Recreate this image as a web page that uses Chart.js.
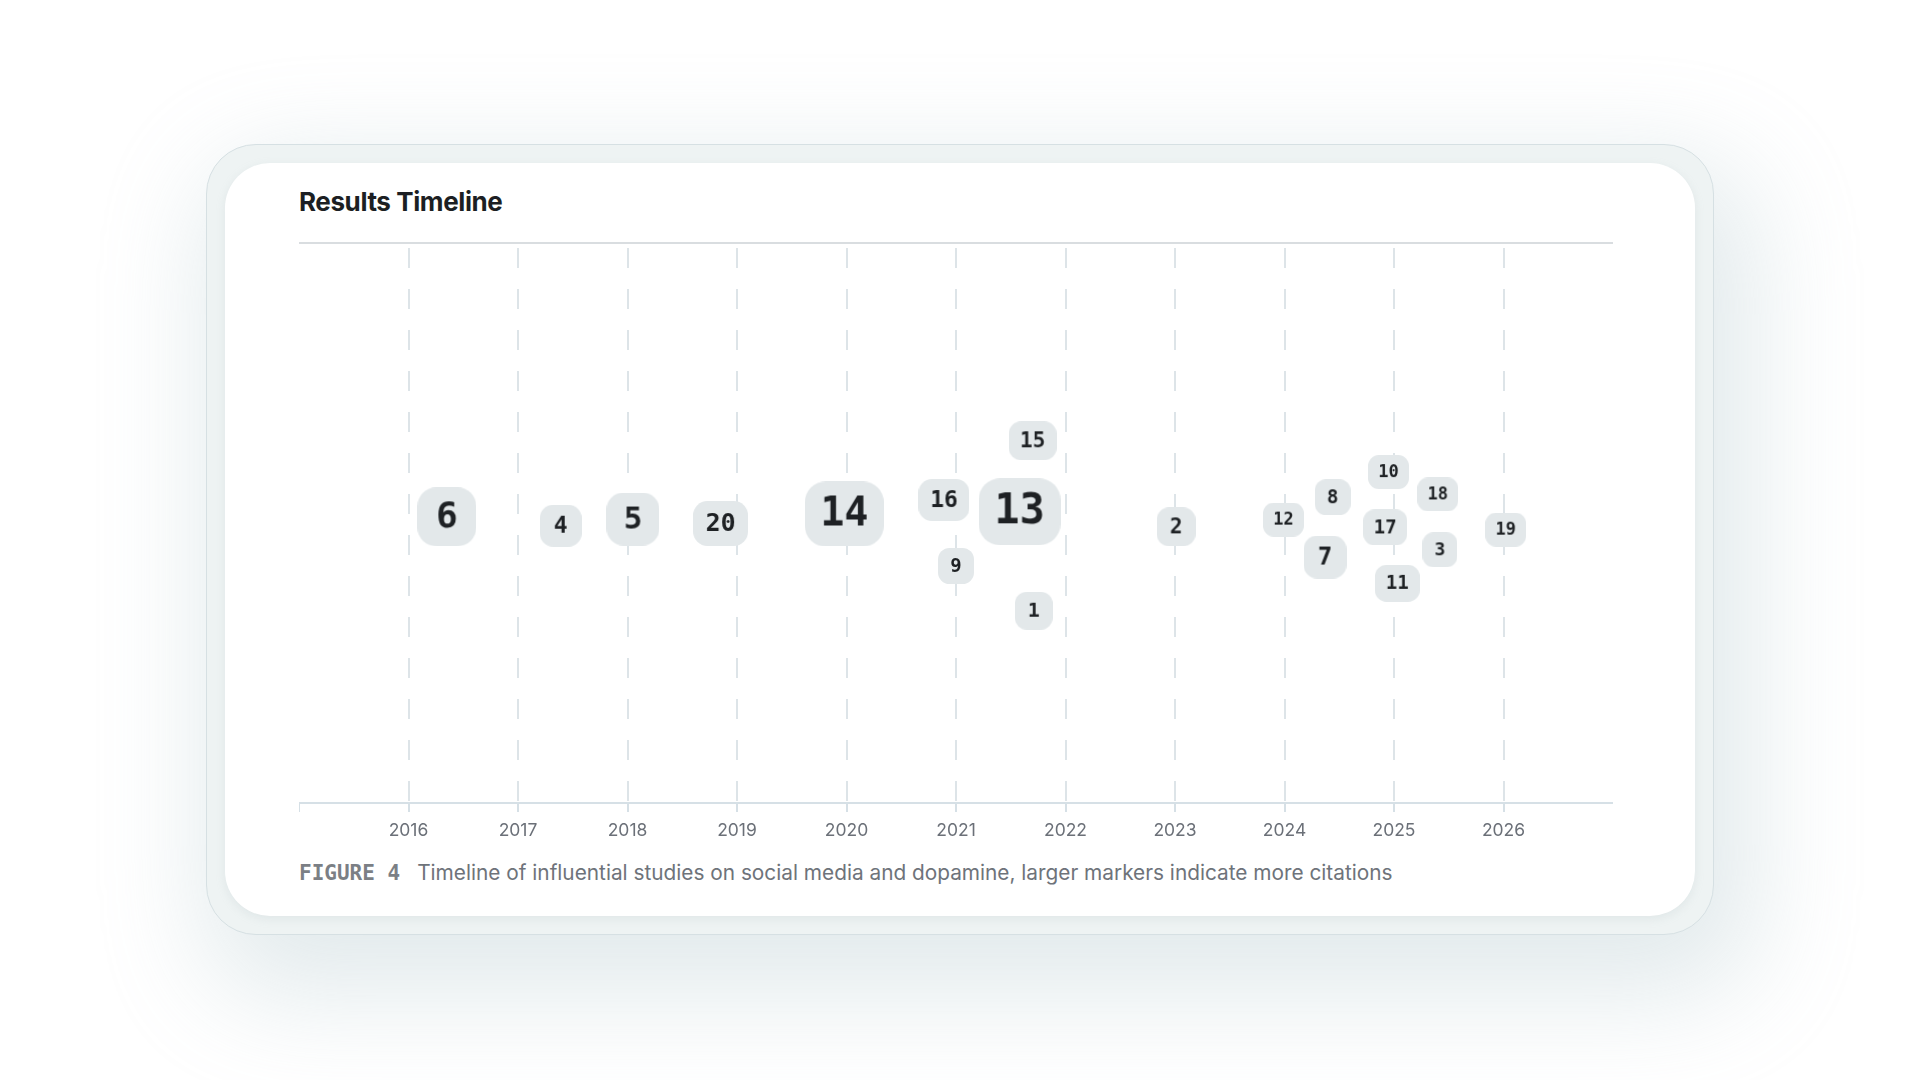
<!DOCTYPE html>
<html>
<head>
<meta charset="utf-8">
<script src="https://cdn.jsdelivr.net/npm/chart.js@4.4.1/dist/chart.umd.min.js"></script>
<style>
    html, body {
        margin: 0;
        padding: 0;
        width: 1920px;
        height: 1080px;
        background: #ffffff;
        overflow: hidden;
    }
    .frame {
        position: absolute;
        left: 206px;
        top: 144px;
        width: 1506px;
        height: 789px;
        border-radius: 50px;
        background: #eef3f3;
        border: 1px solid #d6e0e3;
        box-shadow: 20px 40px 110px 20px rgba(190, 208, 212, 0.45);
    }
    .card {
        position: absolute;
        left: 225px;
        top: 163px;
        width: 1470px;
        height: 753px;
        border-radius: 45px;
        background: #ffffff;
        box-shadow: 0 3px 10px rgba(160, 180, 185, 0.18);
    }
    .title {
        position: absolute;
        left: 299px;
        top: 184px;
        font-family: Inter, "Noto Sans", sans-serif;
        font-weight: 700;
        font-size: 26px;
        letter-spacing: -0.4px;
        color: #1c1f23;
        line-height: 36px;
    }
    .rule {
        position: absolute;
        left: 299px;
        top: 242px;
        width: 1314px;
        height: 2px;
        background: #d9dde0;
    }
    .chartBox {
        position: absolute;
        left: 299px;
        top: 244px;
        width: 1314px;
        height: 599px;
    }
    .caption {
        position: absolute;
        left: 299px;
        top: 860px;
        font-family: Inter, "Noto Sans", sans-serif;
        font-size: 20.8px;
        color: #6e737a;
        line-height: 26px;
        white-space: nowrap;
    }
    .caption b {
        font-family: "DejaVu Sans Mono", monospace;
        font-weight: 700;
        font-size: 21px;
        color: #7b7f85;
        margin-right: 17px;
    }
</style>
</head>
<body>
<div class="frame"></div>
<div class="card"></div>
<div class="title">Results Timeline</div>
<div class="rule"></div>
<div class="chartBox"><canvas id="timeline"></canvas></div>
<div class="caption"><b>FIGURE 4</b>Timeline of influential studies on social media and dopamine, larger markers indicate more citations</div>

<script>
// study numbers, publication year (fractional) and vertical jitter to keep labels apart
const studyIds = [6, 4, 5, 20, 14, 16, 13, 15, 9, 1, 2, 12, 8, 10, 18, 17, 7, 3, 11, 19];
const studyYears = [2016.35, 2017.39, 2018.05, 2018.85, 2019.98, 2020.89, 2021.58, 2021.70, 2021.00, 2021.71,
                    2023.01, 2023.99, 2024.44, 2024.95, 2025.40, 2024.92, 2024.37, 2025.42, 2025.03, 2026.02];
const studyOffsets = [51.2, 49.6, 50.8, 50.0, 51.7, 54.2, 52.1, 64.8, 42.4, 34.4,
                      49.4, 50.7, 54.7, 59.2, 55.2, 49.3, 44.0, 45.3, 39.3, 48.9];
const studyCitations = [290, 120, 230, 150, 350, 120, 370, 90, 60, 80,
                        90, 40, 60, 40, 40, 60, 130, 50, 70, 40];
const yearTicks = [2016, 2017, 2018, 2019, 2020, 2021, 2022, 2023, 2024, 2025, 2026];

const markerFill = '#e3e8ea';
const markerText = '#1e2124';

function makeMarker(id, citations) {
    const h = Math.round(30 + citations / 10);
    const label = String(id);
    const w = label.length > 1 ? Math.round(h * 1.22) : h;
    const c = document.createElement('canvas');
    c.width = w;
    c.height = h;
    const ctx = c.getContext('2d');
    const r = h * 0.32;
    ctx.fillStyle = markerFill;
    ctx.beginPath();
    ctx.roundRect(0, 0, w, h, r);
    ctx.fill();
    const fontSize = Math.round(h * 0.74 - 8);
    ctx.font = 'bold ' + fontSize + 'px "DejaVu Sans Mono", monospace';
    ctx.fillStyle = markerText;
    ctx.textAlign = 'center';
    ctx.textBaseline = 'middle';
    ctx.fillText(label, w / 2, h / 2 + 1);
    return c;
}

let points = [];
let markers = [];
for (let i = 0; i < studyIds.length; i++) {
    points.push({ x: studyYears[i], y: studyOffsets[i] });
    markers.push(makeMarker(studyIds[i], studyCitations[i]));
}

new Chart(document.getElementById('timeline'), {
    type: 'scatter',
    data: {
        datasets: [{
            data: points,
            pointStyle: markers,
            pointRadius: 20,
            pointHoverRadius: 20,
            clip: false
        }]
    },
    options: {
        responsive: true,
        maintainAspectRatio: false,
        layout: { padding: 0, autoPadding: false },
        scales: {
            x: {
                type: 'linear',
                min: 2015,
                max: 2027,
                afterBuildTicks: function(scale) {
                    scale.ticks = [{ value: 2015 }].concat(yearTicks.map(v => ({ value: v })), [{ value: 2027 }]);
                },
                afterFit: function(scale) {
                    scale.height = 40;
                    scale.paddingLeft = 0;
                    scale.paddingRight = 0;
                },
                ticks: {
                    color: '#6b7078',
                    padding: 8,
                    font: { family: 'Inter, "Noto Sans", sans-serif', size: 17.5 },
                    callback: function(value) {
                        return yearTicks.includes(value) ? String(value) : '';
                    }
                },
                grid: {
                    color: function(context) {
                        const v = context.tick && context.tick.value;
                        return yearTicks.includes(v) ? '#dde4e8' : 'rgba(0,0,0,0)';
                    },
                    tickColor: function(context) {
                        const v = context.tick && context.tick.value;
                        return v === 2027 ? 'rgba(0,0,0,0)' : '#d6e0e6';
                    },
                    lineWidth: 2,
                    tickLength: 9,
                    tickBorderDash: []
                },
                border: {
                    display: true,
                    color: '#d6e0e6',
                    width: 2,
                    dash: [20, 21],
                    dashOffset: -4
                }
            },
            y: {
                display: false,
                min: 0,
                max: 100
            }
        },
        plugins: {
            legend: { display: false },
            tooltip: {
                callbacks: {
                    label: function(context) {
                        return 'Study ' + studyIds[context.dataIndex] + ': ' + studyCitations[context.dataIndex] + ' citations';
                    }
                }
            }
        },
        animation: { duration: 0 }
    }
});
</script>
</body>
</html>
